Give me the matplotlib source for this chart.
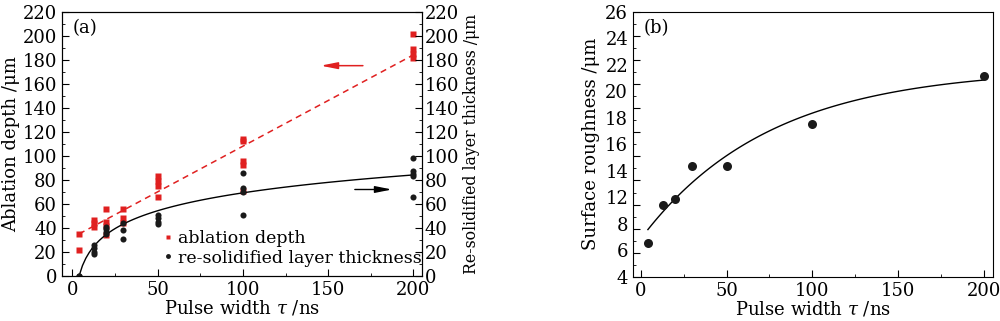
import numpy as np
import matplotlib
matplotlib.use('Agg')
import matplotlib.pyplot as plt
from matplotlib.ticker import MultipleLocator

plt.rcParams['font.family'] = ['DejaVu Serif']
plt.rcParams['mathtext.fontset'] = 'dejavuserif'
plt.rcParams['font.size'] = 10

# (a) ablation depth (red squares), um
abl_x = [4, 4, 13, 13, 13, 20, 20, 20, 20, 30, 30, 30,
         50, 50, 50, 50, 100, 100, 100, 100, 100, 200, 200, 200, 200]
abl_y = [35, 22, 47, 44, 41, 56, 45, 42, 34, 56, 48, 44,
         83, 79, 75, 66, 114, 112, 96, 92, 71, 201, 189, 185, 181]

# (a) re-solidified layer thickness (black circles), um
res_x = [4, 4, 13, 13, 13, 13, 20, 20, 20, 20, 30, 30, 30,
         50, 50, 50, 50, 100, 100, 100, 100, 200, 200, 200, 200, 200]
res_y = [0, 0, 26, 23, 20, 18, 41, 39, 37, 35, 44, 38, 31,
         51, 48, 45, 43, 86, 73, 70, 51, 98, 87, 85, 83, 66]

# linear fit for ablation depth
abl_slope = 0.76
abl_icpt = 32.0
# log fit for re-solidified layer: y = k*ln(x/x0)
res_k = 21.5
res_x0 = 4.0

# (b) surface roughness, plotted on the drawn (uniform) scale
rough_x = [4, 13, 20, 30, 50, 100, 200]
rough_y = [6.8, 10.0, 10.5, 13.2, 13.2, 16.7, 20.7]
# exponential fit y = A - B*exp(-x/t)
rough_A = 21.3
rough_B = 14.1
rough_t = 75.0

# tick labels of (b) as printed (10 is missing in the original)
rough_lbls = ['4', '6', '8', '12', '14', '16', '18', '20', '22', '24', '26']

fig = plt.figure(figsize=(10, 3.21), dpi=100)
ax1 = fig.add_axes([0.062, 0.140, 0.360, 0.824])
ax2 = ax1.twinx()
ax3 = fig.add_axes([0.633, 0.137, 0.360, 0.827])

# ---- panel (a)
fx = np.linspace(4, 200, 100)
ax1.plot(fx, abl_slope * fx + abl_icpt, ls=(0, (4, 3)), color='#e02020', lw=1.1)
ax1.plot(abl_x, abl_y, 's', color='#e02020', ms=4.0, mec='none', label='ablation depth')
ax2.plot(fx, res_k * np.log(fx / res_x0), color='black', lw=1.0)
ax2.plot(res_x, res_y, 'o', color='#1a1a1a', ms=4.4, mec='none')
ax1.plot([], [], 'o', color='#1a1a1a', ms=4.4, mec='none', label='re-solidified layer thickness')

for a in (ax1, ax2):
    a.set_xlim(-6, 205)
    a.set_ylim(0, 220)
    a.yaxis.set_major_locator(MultipleLocator(20))
    a.yaxis.set_minor_locator(MultipleLocator(10))
ax1.xaxis.set_major_locator(MultipleLocator(50))
ax1.xaxis.set_minor_locator(MultipleLocator(25))
ax1.tick_params(which='both', direction='in', top=False, right=False, labelsize=13)
ax1.tick_params(which='major', length=5)
ax1.tick_params(which='minor', length=2.5)
ax2.tick_params(which='both', direction='in', labelsize=13)
ax2.tick_params(which='major', length=5, pad=2)
ax2.tick_params(which='minor', length=2.5)

ax1.set_xlabel(r'Pulse width $\tau$ /ns', fontsize=13, labelpad=0)
ax1.set_ylabel('Ablation depth /μm', fontsize=13, labelpad=2)
ax2.set_ylabel('Re-solidified layer thickness /μm', fontsize=11.3, labelpad=3)
ax1.text(0.03, 0.97, '(a)', transform=ax1.transAxes, fontsize=13, va='top', ha='left')

ax1.annotate('', xy=(144, 175), xytext=(172, 175),
             arrowprops=dict(arrowstyle='-|>,head_length=1.0,head_width=0.2', color='#e02020', lw=1.1))
ax2.annotate('', xy=(189, 72), xytext=(164, 72),
             arrowprops=dict(arrowstyle='-|>,head_length=1.0,head_width=0.2', color='black', lw=1.0))

ax1.legend(loc='lower left', bbox_to_anchor=(0.245, -0.01), frameon=False, fontsize=12.5,
           handlelength=0.6, handletextpad=0.3, labelspacing=0.15, markerscale=0.8, borderpad=0.2)

# ---- panel (b)
fx2 = np.linspace(4, 200, 100)
ax3.plot(fx2, rough_A - rough_B * np.exp(-fx2 / rough_t), color='black', lw=1.0)
ax3.plot(rough_x, rough_y, 'o', color='#1a1a1a', ms=6.5, mec='none')
ax3.set_xlim(-4.7, 205.5)
ax3.set_ylim(4, 26)
ax3.xaxis.set_major_locator(MultipleLocator(50))
ax3.xaxis.set_minor_locator(MultipleLocator(25))
ax3.yaxis.set_major_locator(MultipleLocator(2))
ax3.yaxis.set_minor_locator(MultipleLocator(1))
ax3.set_yticklabels([])
ax3.tick_params(which='both', direction='in', top=False, right=False, labelsize=13)
ax3.tick_params(which='major', length=5)
ax3.tick_params(which='minor', length=2.5)

lbl_ax = ax3.secondary_yaxis('left')
lbl_ax.set_yticks(np.linspace(4, 26, len(rough_lbls)), labels=rough_lbls)
lbl_ax.tick_params(length=0, labelsize=13, pad=3.5)
lbl_ax.spines['left'].set_visible(False)

ax3.set_xlabel(r'Pulse width $\tau$ /ns', fontsize=13, labelpad=0)
lbl_ax.set_ylabel('Surface roughness /μm', fontsize=13, labelpad=4)
ax3.text(0.03, 0.97, '(b)', transform=ax3.transAxes, fontsize=13, va='top', ha='left')

fig.savefig('out.png', dpi=100)
